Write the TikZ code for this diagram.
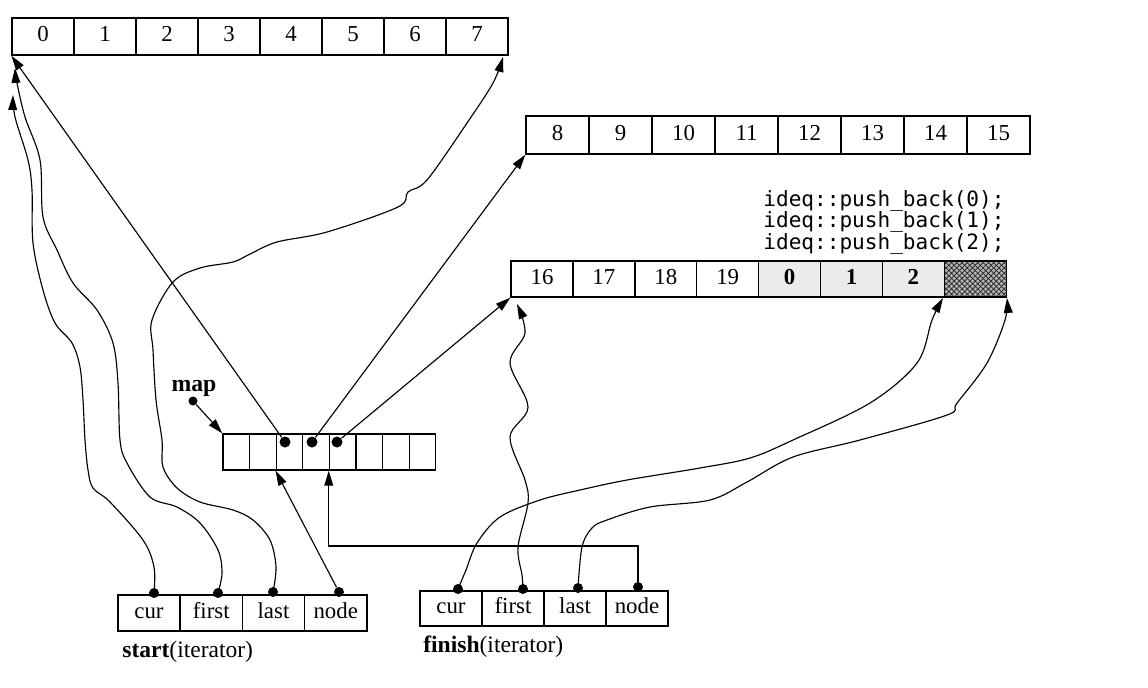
\documentclass[tikz,border=0pt]{standalone}
\usepackage{fontspec}
\setmainfont{Liberation Serif}
\setmonofont{DejaVu Sans Mono}
\usetikzlibrary{arrows.meta,calc,patterns}
\tikzset{
  cell/.style={draw, rectangle, inner sep=0pt, line width=0.75pt, text height=1.6ex, text depth=0.3ex, font=\fontsize{13}{15}\selectfont},
  ptr/.style={-{Triangle[length=8.5pt,width=5pt]}, line width=0.65pt},
  dot/.style={circle, fill, inner sep=0pt, minimum size=0.2cm},
}
\begin{document}
\begin{tikzpicture}[x=0.02cm, y=-0.02cm]
    \useasboundingbox (0,0) rectangle (1148,687);
    % Buffers
    \foreach \i in {0,...,7}
        \node[cell, minimum width=1.24cm, minimum height=0.74cm] (a\i) at (43+62*\i,36.5) {\i};
    \foreach \lbl [count=\k from 0] in {8,...,15}
        \node[cell, minimum width=1.26cm, minimum height=0.76cm] (b\k) at (557.5+63*\k,135) {\lbl};
    \foreach \lbl [count=\k from 0] in {16,17,18,19}
        \node[cell, minimum width=1.238cm, minimum height=0.72cm] (c\k) at (542+61.9*\k,279) {\lbl};
    \foreach \lbl [count=\k from 4] in {0,1,2}
        \node[cell, fill=black!8, minimum width=1.238cm, minimum height=0.72cm] (c\k) at (542+61.9*\k,279) {\textbf{\lbl}};
    \node[cell, preaction={fill=black!30}, pattern=crosshatch, pattern color=black!85, minimum width=1.238cm, minimum height=0.72cm] (c7) at (975.3,279) {};
    % Code
    \node[anchor=north west, align=left, inner sep=0pt, font=\ttfamily\fontsize{12}{12.3}\selectfont] (code) at (763,190)
        {ideq::push\_back(0);\\ideq::push\_back(1);\\ideq::push\_back(2);};
    % Map
    \foreach \i in {1,...,8}
        \node[cell, minimum width=0.532cm, minimum height=0.72cm] (m\i) at (209.7+26.6*\i,452) {};
    \node[font=\bfseries\fontsize{13.5}{15}\selectfont, inner sep=0pt] (maplbl) at (194,388) {map};
    \node[dot, minimum size=0.18cm] (mapdot) at (193,401) {};
    \node[dot, minimum size=0.22cm] (md3) at (285,442) {};
    \node[dot, minimum size=0.22cm] (md4) at (312,442) {};
    \node[dot, minimum size=0.22cm] (md5) at (337,442) {};
    % Iterators
    \foreach \f [count=\k from 0] in {cur,first,last,node}
        \node[cell, minimum width=1.245cm, minimum height=0.72cm] (s\f) at (149+62.25*\k,613) {\f};
    \foreach \f [count=\k from 0] in {cur,first,last,node}
        \node[cell, minimum width=1.24cm, minimum height=0.70cm] (f\f) at (451+62*\k,608.5) {\f};
    \node[anchor=west, inner sep=0pt, font=\fontsize{13.4}{15}\selectfont] (startlbl) at (122,652) {\textbf{start}(iterator)};
    \node[anchor=west, inner sep=0pt, font=\fontsize{13.4}{15}\selectfont] (finishlbl) at (423,647) {\textbf{finish}(iterator)};
    \node[dot] (scurdot) at (154,593) {};
    \node[dot] (sfirstdot) at (218,593) {};
    \node[dot] (slastdot) at (273,592) {};
    \node[dot] (snodedot) at (339,592) {};
    \node[dot] (fcurdot) at (458,589) {};
    \node[dot] (ffirstdot) at (523,589) {};
    \node[dot] (flastdot) at (578,588) {};
    \node[dot] (fnodedot) at (638,587) {};
    % Arrow ends
    \coordinate (curtip) at (13,95);
    \coordinate (firsttip) at (15,68);
    \coordinate (lasttip) at (503,57);
    \coordinate (fcurtip) at (943,298);
    \coordinate (ffirsttip) at (517,304);
    \coordinate (flasttip) at (1007,298);
    % Map pointers
    \draw[ptr] (mapdot) -- (m1.north west);
    \draw[ptr] (md3) -- (a0.south west);
    \draw[ptr] (md4) -- (b0.south west);
    \draw[ptr] (md5) -- (c0.south west);
    \draw[ptr] (snodedot) -- (m3.south west);
    \draw[ptr] (fnodedot) -- ++(0,-41) -| (m5.south west);
    % start
    \draw[ptr] plot[smooth, tension=0.55] coordinates {(scurdot) (154,567) (143,540) (110,502) (93,488) (88,470) (85,440) (83,400) (80,367) (72,343) (55,323) (43,290) (33,243) (32,190) (28,160) (15,117) (curtip)};
    \draw[ptr] plot[smooth, tension=0.55] coordinates {(sfirstdot) (222,573) (218,550) (200,523) (177,507) (150,497) (127,463) (120,440) (118,383) (113,343) (97,310) (73,283) (57,250) (43,217) (40,160) (25,117) (17,83) (firsttip)};
    \draw[ptr] plot[smooth, tension=0.55] coordinates {(slastdot) (276,567) (270,540) (253,520) (233,510) (200,502) (177,488) (163,467) (162,440) (156,400) (153,350) (152,320) (173,282) (200,268) (233,262) (250,254) (277,242) (327,232) (398,207) (408,192) (427,180) (467,123) (493,83) (lasttip)};
    % finish
    \draw[ptr] plot[smooth, tension=0.55] coordinates {(fcurdot) (466,570) (477,543) (500,517) (540,500) (580,490) (627,480) (700,468) (750,458) (793,440) (870,403) (917,363) (932,320) (fcurtip)};
    \draw[ptr] plot[smooth, tension=0.55] coordinates {(ffirstdot) (522,575) (518,547) (528,503) (525,480) (510,437) (528,407) (510,363) (525,333) (ffirsttip)};
    \draw[ptr] plot[smooth, tension=0.55] coordinates {(flastdot) (582,547) (592,528) (607,520) (650,507) (710,500) (747,482) (793,457) (860,440) (947,415) (957,403) (987,363) (1005,320) (flasttip)};
\end{tikzpicture}
\end{document}
